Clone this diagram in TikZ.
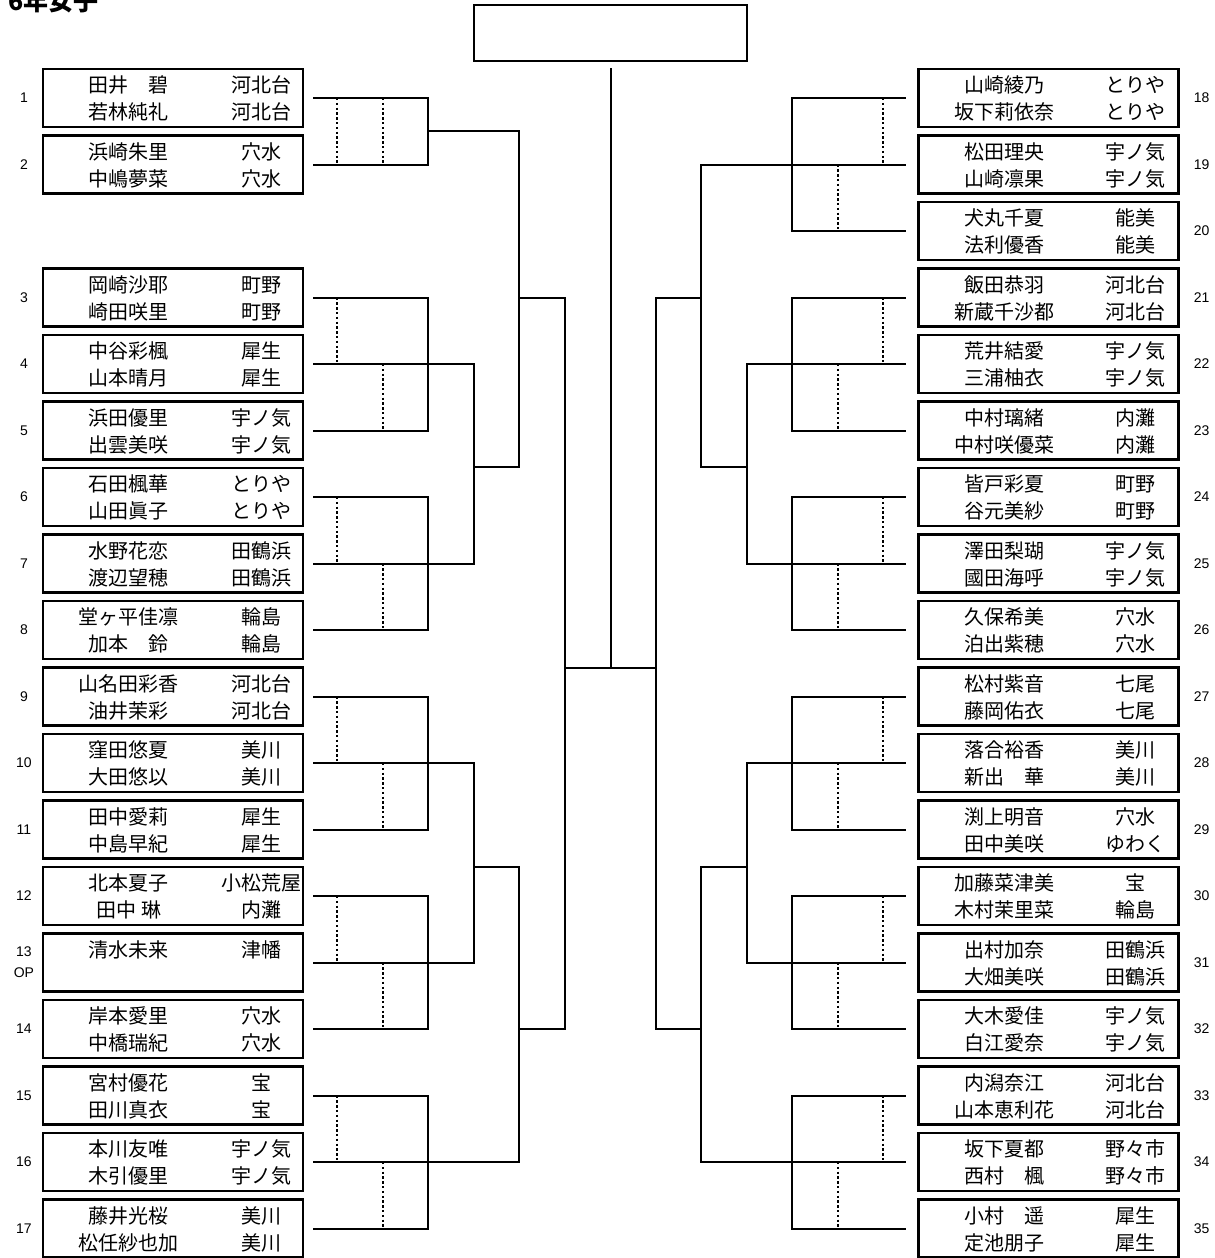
\documentclass[tikz,border=0pt]{standalone}
\usepackage{fontspec}
\setmainfont{Noto Sans CJK JP}
\newfontfamily\seedfont{Liberation Sans}
\usetikzlibrary{positioning}

\tikzset{
  entrybox/.style={draw, line width=2.2pt, minimum width=260pt, minimum height=58pt, inner sep=0pt},
  topbox/.style={draw, line width=2.2pt, minimum width=273pt, minimum height=56pt, inner sep=0pt},
  who/.style={font=\fontsize{20}{22}\selectfont, inner sep=0pt, anchor=base},
  seed/.style={font=\seedfont\fontsize{14}{21}\selectfont, align=center, inner sep=0pt},
  heading/.style={font=\bfseries\fontsize{25}{28}\selectfont, inner sep=0pt, anchor=base west},
  tie/.style={line width=2pt, line cap=rect},
  pool/.style={line width=2pt, dash pattern=on 2.4pt off 2.4pt},
}

\begin{document}
\begin{tikzpicture}[x=1pt,y=-1pt]
\useasboundingbox (0,0) rectangle (1215,1258);

\node[heading] (title) at (8,10) {6年女子};
\node[topbox] (final) at (610.5,33) {};

% left half
\foreach \s/\id/\lab/\na/\ta/\nb/\tb in {
  0/1/1/田井　碧/河北台/若林純礼/河北台,
  1/2/2/浜崎朱里/穴水/中嶋夢菜/穴水,
  3/3/3/岡崎沙耶/町野/崎田咲里/町野,
  4/4/4/中谷彩楓/犀生/山本晴月/犀生,
  5/5/5/浜田優里/宇ノ気/出雲美咲/宇ノ気,
  6/6/6/石田楓華/とりや/山田眞子/とりや,
  7/7/7/水野花恋/田鶴浜/渡辺望穂/田鶴浜,
  8/8/8/堂ヶ平佳凛/輪島/加本　鈴/輪島,
  9/9/9/山名田彩香/河北台/油井茉彩/河北台,
  10/10/10/窪田悠夏/美川/大田悠以/美川,
  11/11/11/田中愛莉/犀生/中島早紀/犀生,
  12/12/12/北本夏子/小松荒屋/田中 琳/内灘,
  13/13/{13\\OP}/清水未来/津幡/{}/{},
  14/14/14/岸本愛里/穴水/中橋瑞紀/穴水,
  15/15/15/宮村優花/宝/田川真衣/宝,
  16/16/16/本川友唯/宇ノ気/木引優里/宇ノ気,
  17/17/17/藤井光桜/美川/松任紗也加/美川} {
  \node[entrybox] (b\id) at (173,98+66.5*\s) {};
  \node[who] (b\id-n1) at ([shift={(87,-5.5)}]b\id.west) {\na};
  \node[who] (b\id-t1) at ([shift={(-43,-5.5)}]b\id.east) {\ta};
  \node[who] (b\id-n2) at ([shift={(87,21.5)}]b\id.west) {\nb};
  \node[who] (b\id-t2) at ([shift={(-43,21.5)}]b\id.east) {\tb};
  \node[seed] (b\id-no) at ([xshift=-18pt]b\id.west) {\lab};
  \coordinate (s\id) at ([xshift=10pt]b\id.east);
}

% right half
\foreach \s/\id/\na/\ta/\nb/\tb in {
  0/18/山崎綾乃/とりや/坂下莉依奈/とりや,
  1/19/松田理央/宇ノ気/山崎凛果/宇ノ気,
  2/20/犬丸千夏/能美/法利優香/能美,
  3/21/飯田恭羽/河北台/新蔵千沙都/河北台,
  4/22/荒井結愛/宇ノ気/三浦柚衣/宇ノ気,
  5/23/中村璃緒/内灘/中村咲優菜/内灘,
  6/24/皆戸彩夏/町野/谷元美紗/町野,
  7/25/澤田梨瑚/宇ノ気/國田海呼/宇ノ気,
  8/26/久保希美/穴水/泊出紫穂/穴水,
  9/27/松村紫音/七尾/藤岡佑衣/七尾,
  10/28/落合裕香/美川/新出　華/美川,
  11/29/渕上明音/穴水/田中美咲/ゆわく,
  12/30/加藤菜津美/宝/木村茉里菜/輪島,
  13/31/出村加奈/田鶴浜/大畑美咲/田鶴浜,
  14/32/大木愛佳/宇ノ気/白江愛奈/宇ノ気,
  15/33/内潟奈江/河北台/山本恵利花/河北台,
  16/34/坂下夏都/野々市/西村　楓/野々市,
  17/35/小村　遥/犀生/定池朋子/犀生} {
  \node[entrybox] (b\id) at (1048.5,98+66.5*\s) {};
  \node[who] (b\id-n1) at ([shift={(87.5,-5.5)}]b\id.west) {\na};
  \node[who] (b\id-t1) at ([shift={(-44.5,-5.5)}]b\id.east) {\ta};
  \node[who] (b\id-n2) at ([shift={(87.5,21.5)}]b\id.west) {\nb};
  \node[who] (b\id-t2) at ([shift={(-44.5,21.5)}]b\id.east) {\tb};
  \node[seed] (b\id-no) at ([xshift=22pt]b\id.east) {\id};
  \coordinate (s\id) at ([xshift=-12.5pt]b\id.west);
}

% columns of the bracket
\coordinate (dotL1) at (337,0);
\coordinate (dotL2) at (383,0);
\coordinate (colL1) at (428,0);
\coordinate (colL2) at (474,0);
\coordinate (colL3) at (519,0);
\coordinate (colL4) at (565,0);
\coordinate (dotR1) at (883,0);
\coordinate (dotR2) at (838,0);
\coordinate (colR1) at (792,0);
\coordinate (colR2) at (747,0);
\coordinate (colR3) at (701,0);
\coordinate (colR4) at (656,0);

% pools, left
\draw[tie] (s1) -- (s1 -| colL1) -- (s2 -| colL1) -- (s2);
\draw[pool] (s1 -| dotL1) -- (s2 -| dotL1);
\draw[pool] (s1 -| dotL2) -- (s2 -| dotL2);
\foreach \a/\b/\c/\col in {3/4/5/colL2, 6/7/8/colL2, 9/10/11/colL2, 12/13/14/colL2, 15/16/17/colL3} {
  \draw[tie] (s\a) -- (s\a -| colL1) -- (s\c -| colL1) -- (s\c);
  \draw[tie] (s\b) -- (s\b -| \col);
  \draw[pool] (s\a -| dotL1) -- (s\b -| dotL1);
  \draw[pool] (s\b -| dotL2) -- (s\c -| dotL2);
}

% pools, right
\foreach \a/\b/\c/\col in {18/19/20/colR3, 21/22/23/colR2, 24/25/26/colR2, 27/28/29/colR2, 30/31/32/colR2, 33/34/35/colR3} {
  \draw[tie] (s\a) -- (s\a -| colR1) -- (s\c -| colR1) -- (s\c);
  \draw[tie] (s\b) -- (s\b -| \col);
  \draw[pool] (s\a -| dotR1) -- (s\b -| dotR1);
  \draw[pool] (s\b -| dotR2) -- (s\c -| dotR2);
}

% later rounds, left
\coordinate (w12) at (428,131);
\coordinate (wu) at (474,467);
\coordinate (wd) at (474,867);
\draw[tie] (s4 -| colL2) -- (s7 -| colL2);
\draw[tie] (s10 -| colL2) -- (s13 -| colL2);
\draw[tie] (w12) -- (w12 -| colL3) -- (wu -| colL3) -- (wu);
\draw[tie] (wd) -- (wd -| colL3) -- (s16 -| colL3);
\draw[tie] (s3 -| colL3) -- (s3 -| colL4) -- (s14 -| colL4) -- (s14 -| colL3);

% later rounds, right
\coordinate (eu) at (747,467);
\coordinate (ed) at (747,867);
\draw[tie] (s22 -| colR2) -- (s25 -| colR2);
\draw[tie] (s28 -| colR2) -- (s31 -| colR2);
\draw[tie] (s19 -| colR3) -- (eu -| colR3) -- (eu);
\draw[tie] (ed) -- (ed -| colR3) -- (s34 -| colR3);
\draw[tie] (s21 -| colR3) -- (s21 -| colR4) -- (s32 -| colR4) -- (s32 -| colR3);

% final
\coordinate (hub) at (610.5,668);
\draw[tie] (colL4 |- hub) -- (colR4 |- hub);
\draw[tie] (hub) -- ([yshift=-7pt]final.south);
\end{tikzpicture}
\end{document}
